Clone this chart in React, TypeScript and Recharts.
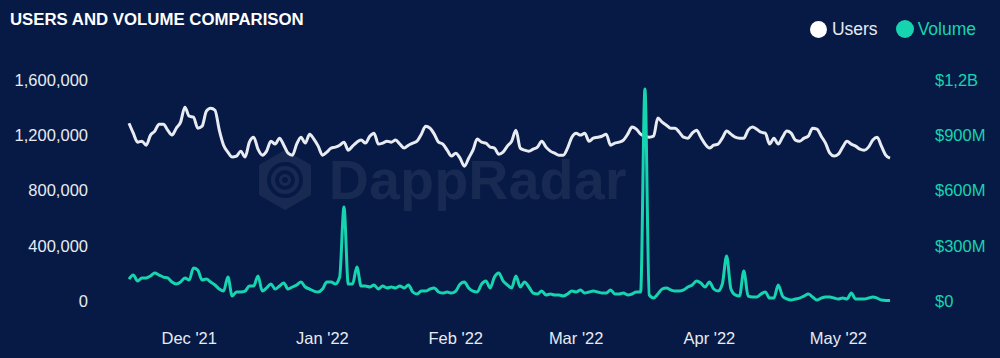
import React from 'react';
import { LineChart, Line, XAxis, YAxis } from 'recharts';

// daily series, first point is Nov 17 2021
const USERS_THOUSANDS = [
  1287, 1215, 1150, 1157, 1128, 1201, 1230, 1280, 1280, 1237, 1201, 1251, 1295, 1403, 1338, 1331, 1251, 1266,
  1374, 1396, 1381, 1237, 1128, 1078, 1042, 1049, 1085, 1042, 1150, 1186, 1099, 1056, 1085, 1157, 1136, 1179,
  1128, 1070, 1056, 1136, 1186, 1143, 1208, 1172, 1121, 1056, 1078, 1107, 1114, 1128, 1150, 1092, 1121, 1150,
  1165, 1143, 1193, 1215, 1136, 1143, 1157, 1150, 1165, 1136, 1107, 1128, 1143, 1157, 1208, 1266, 1251, 1208,
  1150, 1136, 1092, 1049, 1070, 1034, 976, 1034, 1092, 1172, 1150, 1143, 1114, 1107, 1063, 1078, 1121, 1157,
  1237, 1107, 1092, 1085, 1099, 1114, 1157, 1114, 1085, 1070, 1056, 1056, 1107, 1186, 1215, 1201, 1215, 1157,
  1179, 1186, 1193, 1208, 1128, 1143, 1150, 1165, 1208, 1259, 1244, 1208, 1193, 1186, 1193, 1324, 1295, 1273,
  1251, 1251, 1222, 1186, 1179, 1215, 1237, 1186, 1136, 1107, 1128, 1136, 1179, 1230, 1208, 1186, 1179, 1179,
  1237, 1259, 1244, 1222, 1215, 1136, 1179, 1136, 1186, 1230, 1215, 1165, 1157, 1179, 1193, 1251, 1244, 1193,
  1143, 1070, 1049, 1063, 1114, 1157, 1136, 1121, 1099, 1092, 1114, 1165, 1186, 1121, 1056, 1034,
];

const VOLUME_MILLIONS = [
  119, 141, 109, 125, 125, 136, 152, 141, 130, 125, 103, 92, 103, 125, 114, 179, 168, 114,
  119, 103, 87, 65, 54, 130, 27, 49, 49, 54, 81, 81, 136, 54, 71, 92, 65, 81,
  98, 65, 76, 87, 103, 76, 65, 54, 49, 65, 103, 103, 92, 130, 510, 92, 92, 185,
  81, 81, 76, 87, 65, 81, 71, 76, 71, 81, 71, 87, 49, 38, 54, 54, 65, 71,
  49, 43, 49, 43, 54, 92, 103, 71, 54, 49, 92, 109, 71, 130, 152, 109, 87, 71,
  136, 76, 103, 76, 43, 38, 54, 33, 38, 33, 33, 27, 38, 54, 49, 60, 43, 49,
  54, 49, 43, 43, 60, 38, 38, 43, 33, 38, 49, 49, 1151, 33, 16, 38, 65, 71,
  60, 54, 54, 60, 76, 87, 109, 98, 76, 103, 65, 54, 92, 244, 65, 33, 27, 163,
  27, 22, 22, 38, 49, 16, 16, 87, 27, 11, 5, 11, 16, 27, 38, 22, 5, 16,
  22, 22, 16, 11, 16, 11, 43, 11, 11, 11, 16, 22, 16, 5, 3, 3,
];

// day index of the first of each month
const MONTH_TICKS = [14, 45, 76, 104, 135, 165];
const MONTH_LABELS = ["Dec '21", "Jan '22", "Feb '22", "Mar '22", "Apr '22", "May '22"];

const USER_TICKS = [0, 400000, 800000, 1200000, 1600000];
const VOLUME_TICKS = [0, 300e6, 600e6, 900e6, 1200e6];
const VOLUME_TICK_LABELS = ['$0', '$300M', '$600M', '$900M', '$1,2B'];

const BG = '#061a45';
const WHITE = '#e8ebf2';
const TEAL = '#17d4b0';
const FONT = '"Liberation Sans", Arial, sans-serif';

const data = USERS_THOUSANDS.map((u, i) => ({
  day: i,
  users: u * 1000,
  volume: VOLUME_MILLIONS[i] * 1e6,
}));

const ChartLegend = () => (
  <div
    style={{
      position: 'absolute',
      right: 24,
      top: 19,
      display: 'flex',
      alignItems: 'center',
      fontFamily: FONT,
      fontSize: 17.5,
      lineHeight: '20px',
    }}
  >
    <span style={{ width: 17, height: 17, borderRadius: '50%', background: '#ffffff', display: 'inline-block', marginRight: 5 }} />
    <span style={{ color: WHITE, marginRight: 18 }}>Users</span>
    <span style={{ width: 18, height: 18, borderRadius: '50%', background: TEAL, display: 'inline-block', marginRight: 4 }} />
    <span style={{ color: TEAL }}>Volume</span>
  </div>
);

const Watermark = () => (
  <div style={{ position: 'absolute', left: 255, top: 148, display: 'flex', alignItems: 'center', opacity: 0.07 }}>
    <svg width="60" height="64" viewBox="0 0 60 64">
      <path d="M30 2 L56 17 L56 47 L30 62 L4 47 L4 17 Z" fill="#ffffff" />
      <circle cx="30" cy="32" r="16" fill="none" stroke={BG} strokeWidth="4" />
      <circle cx="30" cy="32" r="8" fill="none" stroke={BG} strokeWidth="4" />
      <circle cx="30" cy="32" r="3" fill={BG} />
    </svg>
    <span style={{ color: '#ffffff', fontFamily: FONT, fontWeight: 700, fontSize: 55, marginLeft: 14, letterSpacing: 0.5 }}>
      DappRadar
    </span>
  </div>
);

export default function App() {
  return (
    <div style={{ position: 'absolute', left: 0, top: 0, width: 1000, height: 358, background: BG, overflow: 'hidden' }}>
      <Watermark />
      <div
        style={{
          position: 'absolute',
          left: 10,
          top: 10,
          color: '#ffffff',
          fontFamily: FONT,
          fontWeight: 700,
          fontSize: 16.8,
        }}
      >
        USERS AND VOLUME COMPARISON
      </div>
      <ChartLegend />
      <div style={{ position: 'absolute', left: 0, top: 0 }}>
        <LineChart width={1000} height={358} data={data} margin={{ top: 80, right: 0, bottom: 0, left: 0 }}>
          <XAxis
            dataKey="day"
            type="number"
            domain={['dataMin', 'dataMax']}
            ticks={MONTH_TICKS}
            tickFormatter={(v: number) => MONTH_LABELS[MONTH_TICKS.indexOf(v)]}
            padding={{ left: 29, right: 30 }}
            axisLine={false}
            tickLine={false}
            tickSize={0}
            tickMargin={31}
            height={57}
            tick={{ fill: WHITE, fontSize: 16.5, fontFamily: FONT }}
          />
          <YAxis
            yAxisId="users"
            orientation="left"
            domain={[0, 1600000]}
            ticks={USER_TICKS}
            tickFormatter={(v: number) => v.toLocaleString('en-US')}
            axisLine={false}
            tickLine={false}
            tickSize={0}
            tickMargin={12}
            width={100}
            tick={{ fill: WHITE, fontSize: 16.5, fontFamily: FONT }}
          />
          <YAxis
            yAxisId="volume"
            orientation="right"
            domain={[0, 1200e6]}
            ticks={VOLUME_TICKS}
            tickFormatter={(v: number) => VOLUME_TICK_LABELS[VOLUME_TICKS.indexOf(v)]}
            axisLine={false}
            tickLine={false}
            tickSize={0}
            tickMargin={15}
            width={80}
            tick={{ fill: TEAL, fontSize: 16.5, fontFamily: FONT, textAnchor: 'start' }}
          />
          <Line
            yAxisId="users"
            type="monotone"
            dataKey="users"
            stroke={WHITE}
            strokeWidth={3}
            dot={false}
            isAnimationActive={false}
          />
          <Line
            yAxisId="volume"
            type="monotone"
            dataKey="volume"
            stroke={TEAL}
            strokeWidth={3}
            dot={false}
            isAnimationActive={false}
          />
        </LineChart>
      </div>
    </div>
  );
}
